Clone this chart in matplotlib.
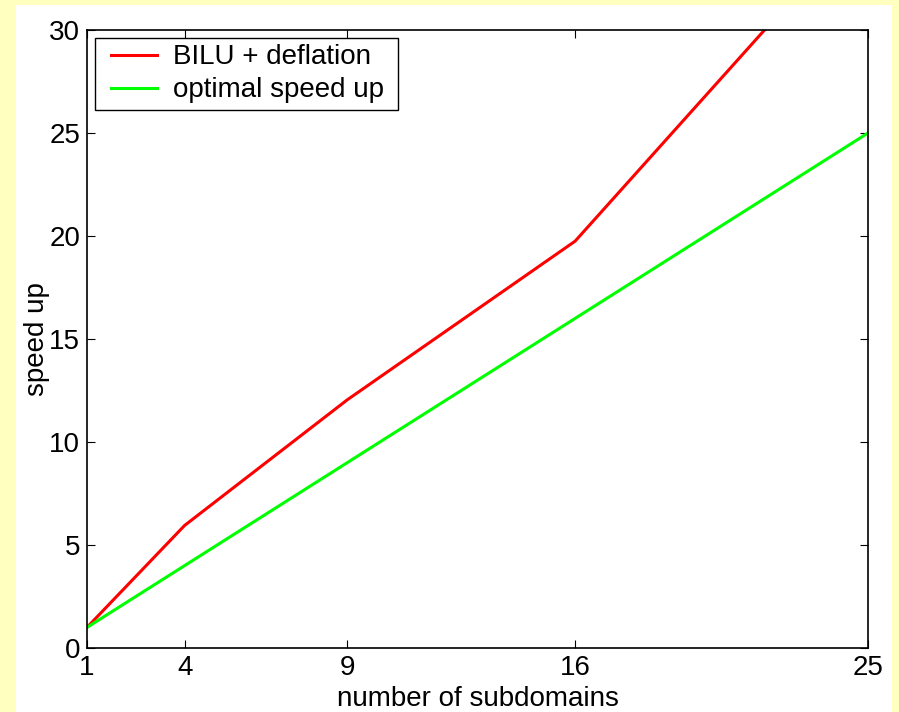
import numpy as np
import matplotlib.pyplot as plt
from matplotlib.patches import Rectangle
from matplotlib.legend_handler import HandlerLine2D

# speed up versus number of subdomains
subdomains = [1, 4, 9, 16, 25]
bilu_deflation = [1.0, 5.95, 12.05, 19.75, 35.6]
optimal = [1, 4, 9, 16, 25]


def main():
    plt.rcParams.update({'font.family': 'Liberation Sans', 'font.size': 20})

    fig = plt.figure(dpi=100, figsize=(8.99, 7.12), facecolor='#ffffc0')
    # white panel behind the plot
    fig.patches.append(Rectangle((16 / 899, 0), 876 / 899, 707 / 712,
                                 transform=fig.transFigure, facecolor='white',
                                 edgecolor='none', zorder=-10))
    ax1 = fig.add_axes([87 / 899, 64 / 712, 781 / 899, 618 / 712])
    ax1.set_zorder(5)

    l1, = ax1.plot(subdomains, bilu_deflation, color='red', lw=2.2, label='BILU + deflation')
    l2, = ax1.plot(subdomains, optimal, color='#00ff00', lw=2.2, label='optimal speed up ')

    ax1.set_xlim(1, 25)
    ax1.set_ylim(0, 30)
    ax1.set_xticks(subdomains)
    ax1.set_yticks(np.arange(0, 31, 5))
    ax1.tick_params(direction='in', top=True, right=True, length=6, width=0.8, pad=5)
    for s in ax1.spines.values():
        s.set_linewidth(1.2)

    ax1.set_xlabel('number of subdomains', labelpad=4)
    ax1.set_ylabel('speed up', labelpad=-1)

    # pad the handles a little on the left
    hmap = {l1: HandlerLine2D(xpad=0.36), l2: HandlerLine2D(xpad=0.36)}
    leg = ax1.legend(loc='upper left', fancybox=False, edgecolor='black',
                     framealpha=1, borderaxespad=0.3, handlelength=2.0,
                     handletextpad=0.58, borderpad=0.22, labelspacing=0.25,
                     handler_map=hmap)
    leg.get_frame().set_linewidth(1.0)

    plt.savefig('out.png', dpi=100, facecolor=fig.get_facecolor())


if __name__ == '__main__':
    main()
